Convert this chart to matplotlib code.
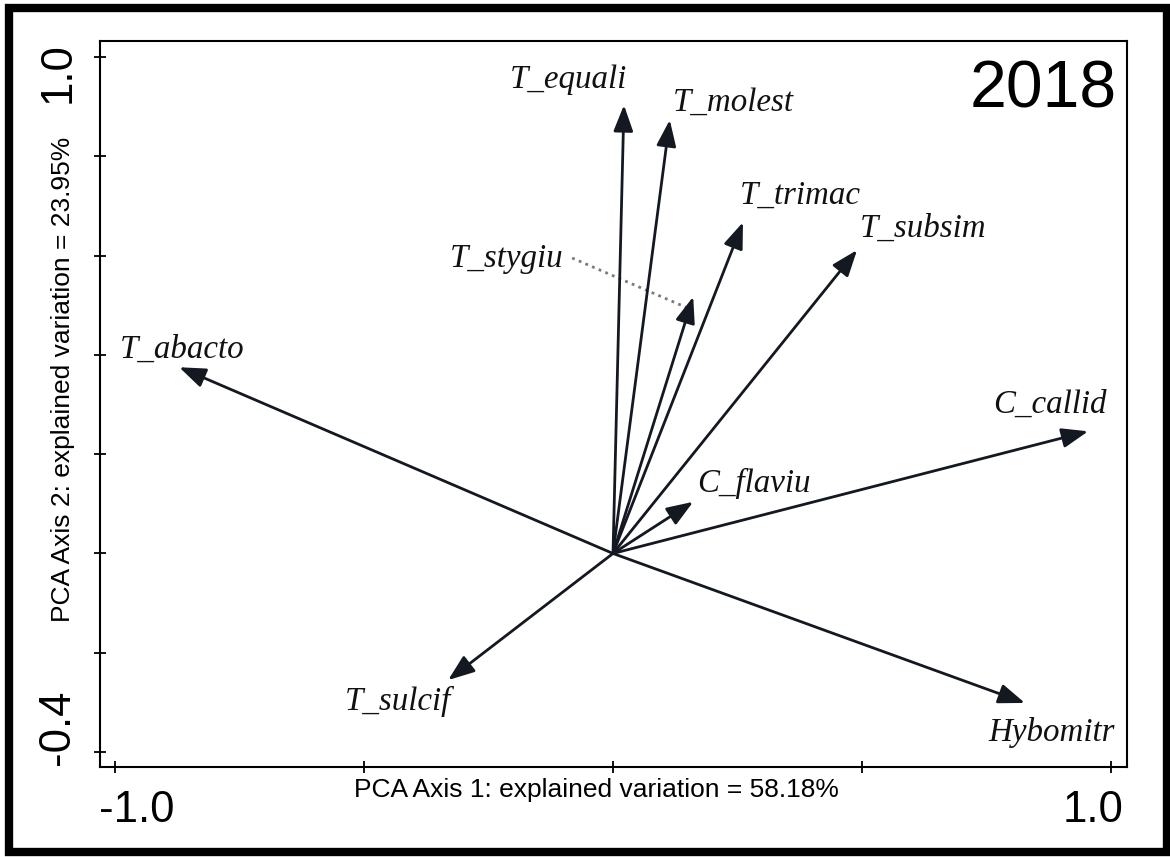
import matplotlib
matplotlib.use("Agg")
import matplotlib.pyplot as plt
from matplotlib.patches import Rectangle

# Species loadings on the first two PCA axes (2018)
species = ["T_equali", "T_molest", "T_trimac", "T_subsim", "T_stygiu",
           "T_abacto", "C_callid", "C_flaviu", "T_sulcif", "Hybomitr"]
axis1 = [0.022, 0.114, 0.261, 0.490, 0.161, -0.871, 0.954, 0.161, -0.331, 0.827]
axis2 = [0.903, 0.873, 0.667, 0.611, 0.517, 0.375, 0.246, 0.104, -0.255, -0.301]

var_axis1 = 58.18
var_axis2 = 23.95
year_label = "2018"

x_ticks = [-1.0, -0.5, 0.0, 0.5, 1.0]
y_ticks = [-0.4, -0.2, 0.0, 0.2, 0.4, 0.6, 0.8, 1.0]

# Label placement: offset (pixels, up positive) of each label's left/baseline from its arrow tip
label_offsets = {
    "T_equali": (-114, 17), "T_molest": (3, 9), "T_trimac": (-3, 19),
    "T_subsim": (3, 13), "T_stygiu": (-243, 30), "T_abacto": (-59, 10),
    "C_callid": (-95, 19), "C_flaviu": (4, 10), "T_sulcif": (-103, -30),
    "Hybomitr": (-37, -38),
}
# species whose label sits away from the arrow and is joined by a leader line
leader = {"T_stygiu": (-0.082, 0.595)}

W, H = 1170, 857
fig = plt.figure(figsize=(W / 100, H / 100), dpi=100)
fig.patch.set_facecolor("white")
ax = fig.add_axes([100 / W, 1 - 767 / H, 1027 / W, 726 / H])

sans = "Liberation Sans"
serif = "Liberation Serif"
arrow_col = "#141821"

ax.set_xlim(-1.030, 1.032)
ax.set_ylim(-0.430, 1.032)
ax.set_xticks(x_ticks)
ax.set_yticks(y_ticks)
ax.set_xticklabels([])
ax.set_yticklabels([])
ax.tick_params(direction="inout", length=8, width=1.3, color="black")
for sp in ax.spines.values():
    sp.set_linewidth(1.5)
    sp.set_color("black")

# leader lines (dotted) from label to arrow
for name, (lx, ly) in leader.items():
    i = species.index(name)
    ax.plot([lx, axis1[i] - 0.006], [ly, axis2[i] - 0.025], linestyle=(0, (1, 1.6)),
            color="#7a7a7a", lw=2.0, zorder=2)

# species arrows from the origin
for name, x, y in zip(species, axis1, axis2):
    ax.annotate("", xy=(x, y), xytext=(0, 0),
                arrowprops=dict(arrowstyle="-|>,head_length=0.8,head_width=0.3",
                                mutation_scale=20, lw=2.0, color=arrow_col,
                                shrinkA=0, shrinkB=0), zorder=3)
    dx, dy = label_offsets[name]
    ax.annotate(name, xy=(x, y), xytext=(dx, dy), textcoords="offset pixels",
                ha="left", va="baseline", fontsize=23.8, fontstyle="italic",
                family=serif, color="#111111", zorder=4)

# axis end labels
ax.annotate(f"{x_ticks[0]:.1f}", xy=(0, 0), xycoords="axes fraction",
            xytext=(-1, -55), textcoords="offset pixels", ha="left",
            va="baseline", fontsize=31.5, family=sans)
ax.annotate(f"{x_ticks[-1]:.1f}", xy=(1, 0), xycoords="axes fraction",
            xytext=(-4, -55), textcoords="offset pixels", ha="right",
            va="baseline", fontsize=31.5, family=sans)
ax.annotate(f"{y_ticks[-1]:.1f}", xy=(0, 1), xycoords="axes fraction",
            xytext=(-30, -1), textcoords="offset pixels", ha="right",
            va="baseline", rotation=90, rotation_mode="anchor",
            fontsize=31.5, family=sans)
ax.annotate(f"{y_ticks[0]:.1f}", xy=(0, 0), xycoords="axes fraction",
            xytext=(-31, 2), textcoords="offset pixels", ha="left",
            va="baseline", rotation=90, rotation_mode="anchor",
            fontsize=31.5, family=sans)

# axis titles
ax.annotate(f"PCA Axis 1: explained variation = {var_axis1:.2f}%",
            xy=(0.5, 0), xycoords="axes fraction", xytext=(-17, -30),
            textcoords="offset pixels", ha="center", va="baseline",
            fontsize=19, family=sans)
ax.annotate(f"PCA Axis 2: explained variation = {var_axis2:.2f}%",
            xy=(0, 0.5), xycoords="axes fraction", xytext=(-30, 25),
            textcoords="offset pixels", ha="center", va="baseline",
            rotation=90, rotation_mode="anchor", fontsize=19, family=sans)

# year tag
ax.annotate(year_label, xy=(1, 1), xycoords="axes fraction",
            xytext=(-10, -66), textcoords="offset pixels", ha="right",
            va="baseline", fontsize=47.5, family=sans)

# heavy outer frame
fig.patches.append(Rectangle((8.5 / W, 5 / H), (1167 - 8.5) / W, (849 - 5) / H,
                             transform=fig.transFigure, fill=False,
                             edgecolor="black", linewidth=6))

fig.savefig("out.png", dpi=100, facecolor="white")
